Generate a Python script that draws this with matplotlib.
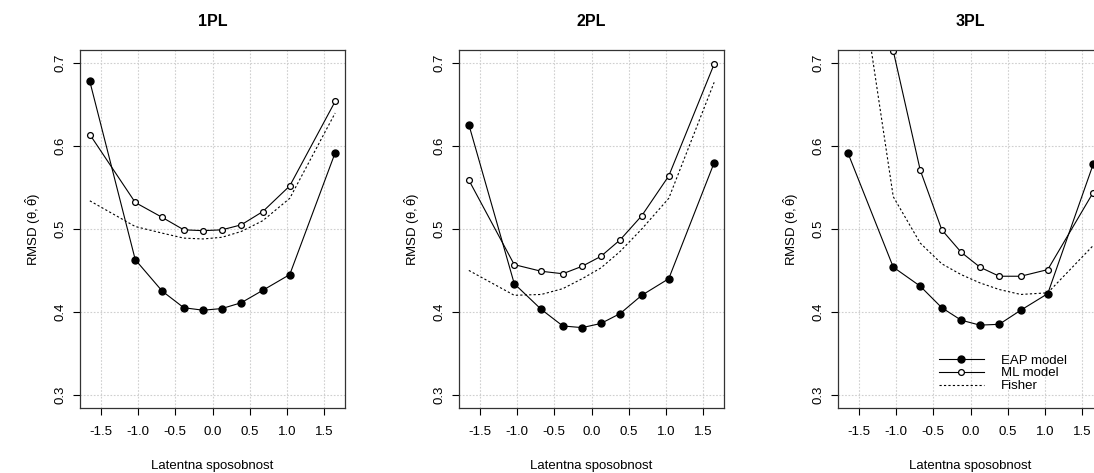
import matplotlib
matplotlib.use("Agg")
import matplotlib.pyplot as plt
import numpy as np

plt.rcParams['font.family'] = ['Liberation Sans', 'DejaVu Sans']
plt.rcParams['mathtext.fontset'] = 'custom'
plt.rcParams['mathtext.rm'] = 'Liberation Sans'
plt.rcParams['mathtext.it'] = 'Liberation Sans'

theta = [-1.645, -1.036, -0.674, -0.385, -0.126, 0.126, 0.385, 0.674, 1.036, 1.645]
titles = ["1PL", "2PL", "3PL"]

eap_1pl = [0.678, 0.463, 0.425, 0.405, 0.402, 0.404, 0.411, 0.426, 0.445, 0.592]
ml_1pl = [0.614, 0.532, 0.514, 0.499, 0.498, 0.499, 0.505, 0.521, 0.552, 0.654]
fisher_1pl = [0.534, 0.503, 0.495, 0.489, 0.488, 0.490, 0.497, 0.510, 0.537, 0.640]

eap_2pl = [0.626, 0.434, 0.403, 0.383, 0.381, 0.386, 0.398, 0.420, 0.440, 0.580]
ml_2pl = [0.559, 0.457, 0.449, 0.446, 0.455, 0.467, 0.487, 0.516, 0.564, 0.699]
fisher_2pl = [0.450, 0.420, 0.421, 0.428, 0.440, 0.453, 0.473, 0.500, 0.537, 0.677]

eap_3pl = [0.592, 0.454, 0.431, 0.405, 0.390, 0.384, 0.385, 0.402, 0.422, 0.578]
ml_3pl = [1.200, 0.715, 0.571, 0.499, 0.472, 0.454, 0.443, 0.443, 0.451, 0.544]
fisher_3pl = [0.905, 0.539, 0.483, 0.458, 0.445, 0.435, 0.427, 0.421, 0.423, 0.480]

eap_all = [eap_1pl, eap_2pl, eap_3pl]
ml_all = [ml_1pl, ml_2pl, ml_3pl]
fisher_all = [fisher_1pl, fisher_2pl, fisher_3pl]

xticks = [-1.5, -1.0, -0.5, 0.0, 0.5, 1.0, 1.5]
yticks = [0.3, 0.4, 0.5, 0.6, 0.7]

W, H = 1094, 473
fig = plt.figure(figsize=(W / 100, H / 100), dpi=100)
lefts = [80, 459, 838]
aw, top, bot = 265, 50, 408
fs = 9.5

for i in range(3):
    ax = fig.add_axes([lefts[i] / W, (H - bot) / H, aw / W, (bot - top) / H])
    ax.set_xlim(-1.777, 1.777)
    ax.set_ylim(0.284, 0.716)
    ax.set_xticks(xticks)
    ax.set_xticklabels([f"{t:.1f}" for t in xticks])
    ax.set_yticks(yticks)
    ax.set_yticklabels([f"{t:.1f}" for t in yticks], rotation=90, va='center')
    ax.grid(True, color='#cfcfcf', linestyle=(0, (1.5, 1.5)), linewidth=0.8)
    ax.set_axisbelow(True)
    ax.tick_params(direction='out', length=5, width=0.8, labelsize=fs, colors='black')
    ax.tick_params(axis='x', pad=8)
    ax.tick_params(axis='y', pad=5)
    for s in ax.spines.values():
        s.set_linewidth(0.9)
        s.set_color('#333333')
    l1, = ax.plot(theta, eap_all[i], '-', color='black', lw=0.8, marker='o', ms=5,
                  mfc='black', mec='black', label='EAP model')
    l2, = ax.plot(theta, ml_all[i], '-', color='black', lw=0.8, marker='o', ms=4.2,
                  mfc='white', mec='black', mew=0.9, label='ML model')
    l3, = ax.plot(theta, fisher_all[i], color='black', lw=0.8, linestyle=(0, (2, 2)),
                  label='Fisher')
    ax.set_title(titles[i], fontsize=11.5, fontweight='bold', pad=17)
    ax.set_xlabel("Latentna sposobnost", fontsize=fs, labelpad=16)
    ax.set_ylabel(r"RMSD $(\theta,\hat{\theta})$", fontsize=fs, labelpad=8)
    if i == 2:
        ax.legend(handles=[l1, l2, l3], loc='upper left', bbox_to_anchor=(0.38, 0.150),
                  frameon=False, fontsize=fs, handlelength=3.4, handletextpad=1.35,
                  labelspacing=0.05, borderpad=0, borderaxespad=0, numpoints=1)

fig.savefig("out.png", dpi=100)
